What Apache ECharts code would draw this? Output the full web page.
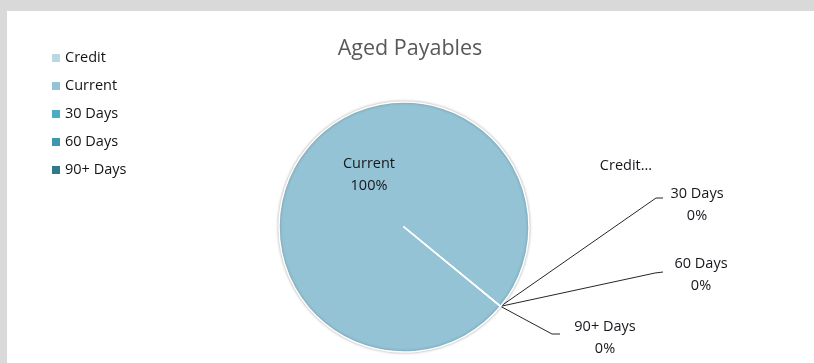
<!DOCTYPE html>
<html>
<head>
<meta charset="utf-8">
<script src="https://cdn.jsdelivr.net/npm/echarts@6/dist/echarts.min.js"></script>
<style>
  html, body { margin: 0; padding: 0; }
  #frame { position: relative; width: 814px; height: 363px; background: #d9d9d9; overflow: hidden; }
  #sheet { position: absolute; left: 7px; top: 11px; right: 0; bottom: 0; background: #ffffff; }
  #chart { position: absolute; left: 0; top: 0; width: 814px; height: 363px; }
</style>
</head>
<body>
<div id="frame">
  <div id="sheet"></div>
  <div id="chart"></div>
</div>
<script>
// Aged payables buckets and their balances
const categories = ['Credit', 'Current', '30 Days', '60 Days', '90+ Days'];
const balances = [0, 100, 0, 0, 0];

// Bucket colours (light to dark teal)
const bucketColors = ['#b8d8e4', '#93c3d5', '#4bacc6', '#3d97ae', '#33798c'];

// Where each data label sits, and the elbow of its leader line
const labelSpots = {
  'Current': [369, 175],
  'Credit': [626, 166],
  '30 Days': [697, 205],
  '60 Days': [701, 275],
  '90+ Days': [605, 338]
};
const leaderElbows = {
  '30 Days': [[656, 198], [663, 198]],
  '60 Days': [[655, 273], [663, 272]],
  '90+ Days': [[552, 334], [560, 334]]
};

const FONT = '"Open Sans", Lato, sans-serif';
const pieCenter = [404, 227];
const pieRadius = 125;
const pieStart = -39.4;

const chart = echarts.init(document.getElementById('chart'), null, { renderer: 'canvas' });

const seriesData = categories.map((name, i) => {
  const item = {
    name: name,
    value: balances[i],
    itemStyle: { color: bucketColors[i] }
  };
  if (name === 'Current') {
    item.label = { position: 'inside' };
    item.itemStyle.shadowBlur = 3;
    item.itemStyle.shadowColor = 'rgba(0,0,0,0.3)';
  }
  if (name === 'Credit') {
    item.labelLine = { show: false };
  }
  return item;
});

chart.setOption({
  animation: false,
  title: {
    text: 'Aged Payables',
    left: 405,
    top: 33,
    textAlign: 'center',
    textStyle: { fontFamily: FONT, fontSize: 21.5, fontWeight: 'normal', color: '#595959' }
  },
  legend: {
    orient: 'vertical',
    left: 52,
    top: 50,
    padding: 0,
    icon: 'rect',
    itemWidth: 8,
    itemHeight: 8,
    itemGap: 12,
    selectedMode: false,
    data: categories,
    itemStyle: { borderWidth: 0, shadowBlur: 0 },
    textStyle: { fontFamily: FONT, fontSize: 14.5, lineHeight: 16, color: '#141414' }
  },
  series: [{
    type: 'pie',
    center: pieCenter,
    radius: pieRadius,
    startAngle: pieStart,
    clockwise: true,
    percentPrecision: 0,
    avoidLabelOverlap: false,
    emphasis: { disabled: true },
    itemStyle: { borderColor: '#ffffff', borderWidth: 1.5 },
    label: {
      show: true,
      position: 'outside',
      fontFamily: FONT,
      fontSize: 14.5,
      lineHeight: 22,
      color: '#16161c',
      align: 'center',
      formatter: (p) => p.name === 'Credit' ? 'Credit...' : p.name + '\n' + p.percent + '%'
    },
    labelLine: {
      show: true,
      length: 20,
      length2: 10,
      lineStyle: { color: '#262626', width: 1 }
    },
    labelLayout: function (params) {
      const name = categories[params.dataIndex];
      const spot = labelSpots[name];
      const out = { x: spot[0], y: spot[1], align: 'center', verticalAlign: 'middle' };
      const elbow = leaderElbows[name];
      if (elbow) {
        let anchor = params.labelLinePoints && params.labelLinePoints[0];
        if (!anchor) {
          const a = pieStart * Math.PI / 180;
          anchor = [pieCenter[0] + pieRadius * Math.cos(a), pieCenter[1] - pieRadius * Math.sin(a)];
        }
        out.labelLinePoints = [anchor, elbow[0], elbow[1]];
      }
      return out;
    },
    data: seriesData
  }]
});
</script>
</body>
</html>
